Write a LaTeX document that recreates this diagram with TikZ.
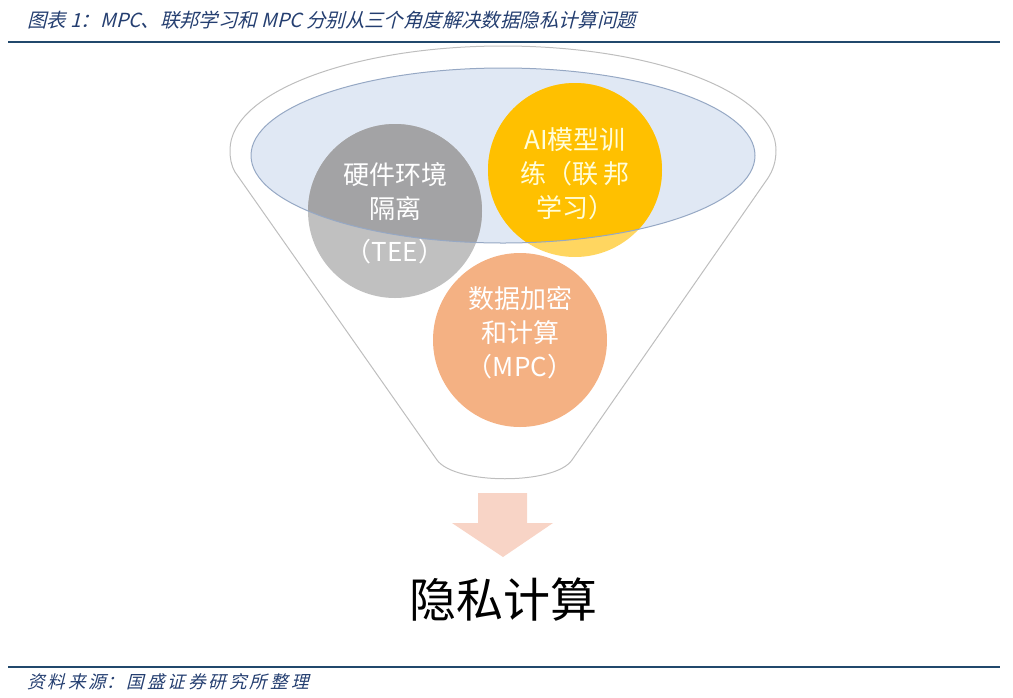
\documentclass[tikz,border=0pt]{standalone}
\usepackage{fontspec}
\usepackage{tikz}
\setmainfont{Noto Sans CJK SC}
\newfontfamily\slantfont[FakeSlant=0.25]{Noto Sans CJK SC}
\usepackage{xcolor}
\definecolor{ruleblue}{RGB}{33,72,108}
\definecolor{textblue}{RGB}{36,62,112}
\definecolor{funnelgray}{RGB}{190,190,190}
\definecolor{topblue}{RGB}{224,232,244}
\definecolor{topedge}{RGB}{150,168,196}
\definecolor{teelight}{RGB}{192,192,192}
\definecolor{teedark}{RGB}{163,163,165}
\definecolor{fllight}{RGB}{255,214,96}
\definecolor{fldark}{RGB}{255,192,0}
\definecolor{mpcorange}{RGB}{244,177,131}
\definecolor{arrowpink}{RGB}{248,212,198}

\begin{document}
\begin{tikzpicture}[x=0.5pt,y=-0.5pt,
    circletext/.style={align=center,text=white,font=\fontsize{13}{17}\selectfont},
    caption/.style={anchor=west,text=textblue,font=\slantfont\fontsize{9.7}{11}\selectfont}]
    \useasboundingbox (0,0) rectangle (1013,697);
    % title and rules
    \node[caption] (title) at (20,20) {图表 1：MPC、联邦学习和 MPC 分别从三个角度解决数据隐私计算问题};
    \draw[ruleblue,line width=1pt] (8,42) -- (1000,42);
    \draw[ruleblue,line width=1pt] (8,667) -- (1000,667);
    \node[caption,font=\slantfont\fontsize{8.8}{10}\selectfont] (source) at (20,682) {资\,料\,来\,源：\,国\,盛\,证\,券\,研\,究\,所\,整\,理};

    % funnel
    \draw[funnelgray,line width=0.5pt] (230,150) arc (180:360:273 and 104)
      .. controls (776,162) and (773,170) .. (768,178) -- (572,460)
      .. controls (555,485) and (455,485) .. (437,460) -- (235,172)
      .. controls (231,165) and (230,158) .. (230,150);
    \fill[topblue] (503,155.5) ellipse (252 and 87.5);

    % circles
    \coordinate (teeC) at (395,211);
    \coordinate (flC) at (575,170);
    \coordinate (mpcC) at (520,340);
    \fill[teelight] (teeC) circle (87);
    \fill[fllight] (flC) circle (87);
    \fill[mpcorange] (mpcC) circle (87);
    \begin{scope}
      \clip (503,155.5) ellipse (252 and 87.5);
      \fill[teedark] (teeC) circle (87);
      \fill[fldark] (flC) circle (87);
    \end{scope}
    \draw[topedge,line width=0.5pt] (503,155.5) ellipse (252 and 87.5);

    \node[circletext] (tee) at ([yshift=-1]teeC) {硬件环境\\隔离\\[4.5pt]（TEE）};
    \node[circletext,text=white!85!yellow] (fl) at ([yshift=-2]flC) {AI模型训\\练（联\ 邦\\学习）};
    \node[circletext] (mpc) at ([yshift=3.5]mpcC) {数据加密\\和计算\\（MPC）};

    % arrow
    \fill[arrowpink] (478,493) -- (527,493) -- (527,523) -- (553,523) -- (503,557)
      -- (452,523) -- (478,523) -- cycle;
    \node[font=\fontsize{23.5}{26}\selectfont] (result) at (503,600) {隐私计算};
\end{tikzpicture}
\end{document}
